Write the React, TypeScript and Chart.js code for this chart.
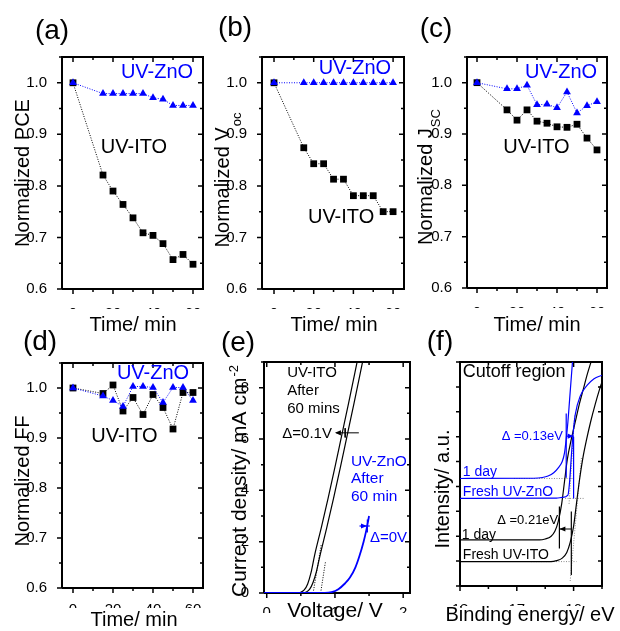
import React, { useEffect, useRef } from "react";
import { Chart, registerables } from "chart.js";
Chart.register(...registerables);

const FONT = "'Liberation Sans', Arial, Helvetica, sans-serif";
const BLUE = "#0000ff";
const GRAY = "#8a8a8a";
const PAGE_W = 620;
const PAGE_H = 631;
const YW = 40;
const XH = 20;

// ---------------- data: panels (a)-(d)
const timeMin = [0, 15, 20, 25, 30, 35, 40, 45, 50, 55, 60];
const pceITO = [1.0, 0.821, 0.79, 0.764, 0.738, 0.709, 0.704, 0.688, 0.657, 0.667, 0.648];
const pceZnO = [1.0, 0.979, 0.979, 0.979, 0.979, 0.979, 0.971, 0.968, 0.956, 0.956, 0.956];
const vocITO = [1.0, 0.874, 0.843, 0.843, 0.813, 0.813, 0.781, 0.781, 0.781, 0.75, 0.75];
const vocZnO = [1.0, 1.0, 1.0, 1.0, 1.0, 1.0, 1.0, 1.0, 1.0, 1.0, 1.0];
const jscITO = [1.0, 0.947, 0.927, 0.947, 0.925, 0.921, 0.914, 0.913, 0.919, 0.892, 0.869];
const jscZnO = [1.0, 0.988, 0.988, 0.995, 0.957, 0.958, 0.951, 0.982, 0.941, 0.955, 0.963];
const ffITO = [1.0, 0.989, 1.006, 0.954, 0.981, 0.947, 0.987, 0.961, 0.918, 0.991, 0.991];
const ffZnO = [1.0, 0.984, 0.975, 0.963, 1.003, 1.003, 1.001, 0.971, 1.001, 1.001, 0.975];

const timeTicks = [0, 10, 20, 30, 40, 50, 60];
const normTicks = [0.6, 0.65, 0.7, 0.75, 0.8, 0.85, 0.9, 0.95, 1.0, 1.05];

// ---------------- data: panel (e) J-V
const jvVoltItoAged = [-0.04, 0.45, 0.5, 0.55, 0.6, 0.65, 0.7, 0.8, 0.9, 1.0, 1.1, 1.2, 1.34];
const jvCurItoAged = [0, 0, 0.03, 0.12, 0.35, 0.8, 1.45, 2.55, 3.7, 4.9, 6.15, 7.4, 9.2];
const jvVoltItoFresh = [-0.04, 0.52, 0.58, 0.63, 0.68, 0.73, 0.78, 0.88, 0.98, 1.08, 1.18, 1.28, 1.42];
const jvCurItoFresh = [0, 0, 0.04, 0.15, 0.42, 0.85, 1.45, 2.55, 3.7, 4.9, 6.15, 7.4, 9.2];
const jvVoltZnO = [-0.04, 0.85, 0.95, 1.05, 1.15, 1.22, 1.3, 1.36, 1.42, 1.46, 1.5];
const jvCurZnO = [0, 0, 0.03, 0.15, 0.38, 0.6, 1.0, 1.45, 2.0, 2.45, 3.0];
const tangentAgedV = [0.68, 0.8];
const tangentAgedJ = [0, 1.9];
const tangentFreshV = [0.79, 0.86];
const tangentFreshJ = [0, 1.2];
const itoArrowV = [1.02, 1.35];
const itoArrowJ = [6.24, 6.24];
const itoArrowTickV = [1.15, 1.15];
const itoArrowTickJ = [6.42, 6.06];
const znoArrowV = [1.36, 1.51];
const znoArrowJ = [2.61, 2.61];
const znoArrowTickV = [1.475, 1.475];
const znoArrowTickJ = [2.86, 2.36];
const voltTicks = [0, 0.5, 1, 1.5, 2];
const curTicks = [0, 1, 2, 3, 4, 5, 6, 7, 8, 9];

// ---------------- data: panel (f) UPS cutoff
const beFreshITO = [18, 16.4, 16.3, 16.2, 16.12, 16.06, 16.0, 15.95, 15.9, 15.84, 15.77, 15.7, 15.62, 15.55, 15.5];
const intFreshITO = [0.98, 0.98, 1.02, 1.12, 1.35, 1.75, 2.4, 3.3, 4.2, 5.1, 5.9, 6.6, 7.3, 7.85, 8.2];
const beDayITO = [18, 16.6, 16.5, 16.4, 16.33, 16.27, 16.21, 16.16, 16.11, 16.04, 15.97, 15.9, 15.83, 15.76, 15.68];
const intDayITO = [1.85, 1.85, 1.89, 1.99, 2.2, 2.6, 3.3, 4.2, 5.1, 5.9, 6.6, 7.3, 7.9, 8.5, 9.1];
const beFreshZnO = [18, 16.3, 16.2, 16.1, 16.07, 16.04, 16.01, 15.97, 15.88, 15.76, 15.64, 15.5];
const intFreshZnO = [3.52, 3.53, 3.56, 3.65, 4.2, 5.2, 6.1, 6.9, 7.65, 8.07, 8.33, 8.47];
const beDayZnO = [18, 16.7, 16.55, 16.45, 16.35, 16.27, 16.2, 16.16, 16.13, 16.1, 16.07, 16.04, 16.01];
const intDayZnO = [4.32, 4.33, 4.36, 4.42, 4.55, 4.75, 5.0, 5.35, 5.9, 6.6, 7.5, 8.4, 9.3];
const markDayZnOBE = [16.13, 16.13];
const markDayZnOInt = [4.35, 6.93];
const markFreshZnOBE = [16.0, 16.0];
const markFreshZnOInt = [3.52, 6.0];
const markDayITOBE = [16.25, 16.25];
const markDayITOInt = [1.51, 3.19];
const markFreshITOBE = [16.04, 16.04];
const markFreshITOInt = [0.44, 2.99];
const arrowZnOBE = [16.13, 16.0];
const arrowZnOInt = [6.02, 6.02];
const arrowITOBE = [16.25, 16.04];
const arrowITOInt = [2.29, 2.29];
const baseDayZnOBE = [17.05, 16.0];
const baseDayZnOInt = [4.32, 4.32];
const baseFreshZnOBE = [16.15, 15.82];
const baseFreshZnOInt = [3.52, 3.52];
const baseFreshITOBE = [16.75, 15.95];
const baseFreshITOInt = [0.98, 0.98];
const tanFreshITOBE = [16.06, 15.86];
const tanFreshITOInt = [0.2, 5.2];
const tanFreshZnOBE = [16.08, 15.98];
const tanFreshZnOInt = [3.3, 6.9];
const beTicks = [18, 17.5, 17, 16.5, 16, 15.5];
const intTicks = [0, 1, 2, 3, 4, 5, 6, 7, 8, 9];

// ---------------- helpers
const pts = (xs: number[], ys: number[]) => xs.map((x, i) => ({ x, y: ys[i] }));

const line = (xs: number[], ys: number[], color: string, width = 1, dash: number[] = [], smooth = false) => ({
  data: pts(xs, ys),
  showLine: true,
  borderColor: color,
  backgroundColor: color,
  borderWidth: width,
  borderDash: dash,
  pointRadius: 0,
  pointHoverRadius: 0,
  fill: false,
  cubicInterpolationMode: smooth ? "monotone" : "default",
});

const series = (ys: number[], color: string, style: string) => ({
  data: pts(timeMin, ys),
  showLine: true,
  borderColor: color,
  backgroundColor: color,
  borderWidth: 1,
  borderDash: [1, 1.5],
  pointStyle: style,
  pointRadius: style === "rect" ? 4.8 : 4.5,
  pointBackgroundColor: color,
  pointBorderColor: color,
  pointBorderWidth: 0,
  pointHoverRadius: 0,
  fill: false,
});

const timeLabel = (v: number) => (Math.abs(v % 20) < 1e-9 ? String(v) : "");
const normLabel = (v: number) =>
  Math.abs(v * 10 - Math.round(v * 10)) < 1e-6 && v < 1.04 ? v.toFixed(1) : "";
const intLabel = (v: number) => (Math.abs(v - Math.round(v)) < 1e-9 ? String(Math.round(v)) : "");
const evenLabel = (v: number) => (v % 2 === 0 && v <= 8 ? String(v) : "");
const noLabel = () => "";

// ---------------- annotation plugin (arrow heads, texts, titles)
const decorPlugin = {
  id: "decor",
  afterDraw(chart: any, _args: any, o: any) {
    const ctx: CanvasRenderingContext2D = chart.ctx;
    const xs = chart.scales.x;
    const ys = chart.scales.y;
    const ox = o.ox || 0;
    const oy = o.oy || 0;
    ctx.save();

    for (const ah of o.arrowHeads || []) {
      const tx = xs.getPixelForValue(ah.tip[0]);
      const ty = ys.getPixelForValue(ah.tip[1]);
      const fx = xs.getPixelForValue(ah.from[0]);
      const fy = ys.getPixelForValue(ah.from[1]);
      const ang = Math.atan2(ty - fy, tx - fx);
      const len = 6;
      const hw = 2.6;
      ctx.fillStyle = ah.color;
      ctx.beginPath();
      ctx.moveTo(tx, ty);
      ctx.lineTo(tx - len * Math.cos(ang) + hw * Math.sin(ang), ty - len * Math.sin(ang) - hw * Math.cos(ang));
      ctx.lineTo(tx - len * Math.cos(ang) - hw * Math.sin(ang), ty - len * Math.sin(ang) + hw * Math.cos(ang));
      ctx.closePath();
      ctx.fill();
    }

    ctx.textBaseline = "middle";
    for (const t of o.texts || []) {
      ctx.font = `${t.size || 20}px ${FONT}`;
      ctx.fillStyle = t.color || "#000";
      ctx.textAlign = t.align || "center";
      ctx.fillText(t.text, xs.getPixelForValue(t.x), ys.getPixelForValue(t.y));
    }

    ctx.translate(-ox, -oy);
    ctx.fillStyle = "#000";
    if (o.panelLabel) {
      ctx.font = `28px ${FONT}`;
      ctx.textAlign = "center";
      ctx.textBaseline = "middle";
      ctx.fillText(o.panelLabel.text, o.panelLabel.x, o.panelLabel.y - 2);
    }
    if (o.xTitle) {
      ctx.font = `${o.xTitle.size || 20}px ${FONT}`;
      ctx.textAlign = "center";
      ctx.textBaseline = "alphabetic";
      ctx.fillText(o.xTitle.text, o.xTitle.x, o.xTitle.y);
    }
    if (o.yTitle) {
      const yt = o.yTitle;
      ctx.save();
      ctx.translate(yt.x, yt.y);
      ctx.rotate(-Math.PI / 2);
      ctx.textBaseline = "alphabetic";
      ctx.textAlign = "left";
      ctx.font = `${yt.size || 20}px ${FONT}`;
      const wm = ctx.measureText(yt.main).width;
      let ws = 0;
      if (yt.small) {
        ctx.font = `${yt.smallSize || 13}px ${FONT}`;
        ws = ctx.measureText(yt.small).width + 1;
      }
      const start = -(wm + ws) / 2;
      ctx.font = `${yt.size || 20}px ${FONT}`;
      ctx.fillText(yt.main, start, 0);
      if (yt.small) {
        ctx.font = `${yt.smallSize || 13}px ${FONT}`;
        ctx.fillText(yt.small, start + wm + 1, yt.smallDy || 0);
      }
      ctx.restore();
    }
    ctx.restore();
  },
};

type Box = { x: number; y: number; w: number; h: number };
type Area = { l: number; t: number; r: number; b: number };
type AxisCfg = {
  min: number;
  max: number;
  ticks: number[];
  label: (v: number) => string;
  padding: number;
  reverse?: boolean;
};
type PanelCfg = {
  box: Box;
  area: Area;
  x: AxisCfg;
  y: AxisCfg;
  datasets: any[];
  decor: any;
  yFlat?: boolean;
};

// frame and tick marks, drawn through the chart's own scales as line datasets
function axesDatasets(p: PanelCfg): any[] {
  const { x, y, area } = p;
  const kx = (x.max - x.min) / (area.r - area.l);
  const ky = (y.max - y.min) / (area.b - area.t);
  const xLeft = x.reverse ? x.max : x.min;
  const xRight = x.reverse ? x.min : x.max;
  const sx = x.reverse ? -1 : 1;
  const frame = [
    { x: xLeft, y: y.min },
    { x: xRight, y: y.min },
    { x: xRight, y: y.max },
    { x: xLeft, y: y.max },
    { x: xLeft, y: y.min },
  ];
  const tickPts: any[] = [];
  for (const v of x.ticks) {
    const len = x.label(v) !== "" ? 5 : 3;
    tickPts.push({ x: v, y: y.min }, { x: v, y: y.min - len * ky }, { x: v, y: null });
    tickPts.push({ x: v, y: y.max }, { x: v, y: y.max - len * ky }, { x: v, y: null });
  }
  for (const v of y.ticks) {
    const len = p.yFlat ? 4 : y.label(v) !== "" ? 5 : 3;
    tickPts.push({ x: xLeft, y: v }, { x: xLeft - sx * len * kx, y: v }, { x: xLeft, y: null });
    tickPts.push({ x: xRight, y: v }, { x: xRight - sx * len * kx, y: v }, { x: xRight, y: null });
  }
  const base = {
    showLine: true,
    borderColor: "#000",
    backgroundColor: "#000",
    pointRadius: 0,
    pointHoverRadius: 0,
    fill: false,
    spanGaps: false,
    clip: false,
  };
  return [
    { ...base, borderWidth: 2, data: frame },
    { ...base, borderWidth: 1.5, data: tickPts },
  ];
}

function axis(c: AxisCfg, isX: boolean) {
  return {
    type: "linear",
    position: isX ? "bottom" : "left",
    min: c.min,
    max: c.max,
    reverse: !!c.reverse,
    grid: { display: false },
    border: { display: false },
    afterBuildTicks: (s: any) => {
      s.ticks = c.ticks.map((v) => ({ value: v }));
    },
    afterFit: (s: any) => {
      if (isX) s.height = XH;
      else s.width = YW;
    },
    ticks: {
      autoSkip: false,
      maxRotation: 0,
      minRotation: 0,
      padding: c.padding,
      color: "#000",
      font: { family: FONT, size: 15 },
      callback: (v: any) => c.label(Number(v)),
    },
  };
}

function buildConfig(p: PanelCfg): any {
  const { box, area } = p;
  return {
    type: "scatter",
    data: { datasets: [...p.datasets, ...axesDatasets(p)] },
    plugins: [decorPlugin],
    options: {
      responsive: false,
      animation: false,
      events: [],
      layout: {
        padding: {
          left: area.l - box.x - YW,
          top: area.t - box.y,
          right: box.x + box.w - area.r,
          bottom: box.y + box.h - area.b - XH,
        },
      },
      plugins: {
        legend: { display: false },
        tooltip: { enabled: false },
        decor: { ...p.decor, ox: box.x, oy: box.y },
      },
      scales: { x: axis(p.x, true), y: axis(p.y, false) },
    },
  };
}

// ---------------- panels
const timeAxis = (min: number, max: number, padding: number): AxisCfg => ({
  min, max, ticks: timeTicks, label: timeLabel, padding,
});
const normAxis: AxisCfg = { min: 0.6, max: 1.05, ticks: normTicks, label: normLabel, padding: 7 };

const panels: PanelCfg[] = [
  {
    box: { x: 0, y: 0, w: 215, h: 336 },
    area: { l: 62, t: 57, r: 203, b: 289 },
    x: timeAxis(-5.5, 65, 8),
    y: normAxis,
    datasets: [series(pceZnO, BLUE, "triangle"), series(pceITO, "#000", "rect")],
    decor: {
      panelLabel: { text: "(a)", x: 52, y: 33 },
      xTitle: { text: "Time/ min", x: 133, y: 331 },
      yTitle: { main: "Normalized PCE", x: 29, y: 173 },
      texts: [
        { text: "UV-ZnO", x: 42, y: 1.019, color: BLUE },
        { text: "UV-ITO", x: 30.5, y: 0.874 },
      ],
    },
  },
  {
    box: { x: 205, y: 0, w: 215, h: 336 },
    area: { l: 262, t: 57, r: 404, b: 289 },
    x: timeAxis(-6.05, 65.5, 8),
    y: normAxis,
    datasets: [series(vocZnO, BLUE, "triangle"), series(vocITO, "#000", "rect")],
    decor: {
      panelLabel: { text: "(b)", x: 235, y: 30 },
      xTitle: { text: "Time/ min", x: 334, y: 331 },
      yTitle: { main: "Normalized V", small: "oc", smallDy: 12, x: 229, y: 180 },
      texts: [
        { text: "UV-ZnO", x: 40.8, y: 1.027, color: BLUE },
        { text: "UV-ITO", x: 33.8, y: 0.738 },
      ],
    },
  },
  {
    box: { x: 410, y: 0, w: 210, h: 336 },
    area: { l: 467, t: 57, r: 607, b: 288 },
    x: timeAxis(-5, 65, 8),
    y: normAxis,
    datasets: [series(jscZnO, BLUE, "triangle"), series(jscITO, "#000", "rect")],
    decor: {
      panelLabel: { text: "(c)", x: 436, y: 31 },
      xTitle: { text: "Time/ min", x: 537, y: 331 },
      yTitle: { main: "Normalized J", small: "SC", smallDy: 8, x: 432, y: 177 },
      texts: [
        { text: "UV-ZnO", x: 42, y: 1.019, color: BLUE },
        { text: "UV-ITO", x: 29.75, y: 0.874 },
      ],
    },
  },
  {
    box: { x: 0, y: 328, w: 215, h: 303 },
    area: { l: 62, t: 363, r: 203, b: 588 },
    x: timeAxis(-5.5, 65, 5),
    y: normAxis,
    datasets: [series(ffZnO, BLUE, "triangle"), series(ffITO, "#000", "rect")],
    decor: {
      panelLabel: { text: "(d)", x: 40, y: 344 },
      xTitle: { text: "Time/ min", x: 134, y: 626 },
      yTitle: { main: "Normalized FF", x: 29, y: 481 },
      texts: [
        { text: "UV-ZnO", x: 40, y: 1.03, color: BLUE },
        { text: "UV-ITO", x: 25.75, y: 0.904 },
      ],
    },
  },
  {
    box: { x: 205, y: 328, w: 215, h: 303 },
    area: { l: 264, t: 362, r: 410, b: 593 },
    x: { min: -0.04, max: 2.1, ticks: voltTicks, label: intLabel, padding: 3 },
    y: { min: 0, max: 9, ticks: curTicks, label: evenLabel, padding: 7 },
    datasets: [
      line(jvVoltZnO, jvCurZnO, BLUE, 1.8, [], true),
      line(znoArrowV, znoArrowJ, BLUE, 1.2),
      line(znoArrowTickV, znoArrowTickJ, BLUE, 1.2),
      line(jvVoltItoAged, jvCurItoAged, "#000", 1.2, [], true),
      line(jvVoltItoFresh, jvCurItoFresh, "#000", 1.2, [], true),
      line(tangentAgedV, tangentAgedJ, "#000", 1, [1, 1.5]),
      line(tangentFreshV, tangentFreshJ, "#000", 1, [1, 1.5]),
      line(itoArrowV, itoArrowJ, "#000", 1),
      line(itoArrowTickV, itoArrowTickJ, "#000", 1),
    ],
    decor: {
      panelLabel: { text: "(e)", x: 238, y: 345 },
      xTitle: { text: "Voltage/ V", x: 335, y: 617, size: 21 },
      yTitle: { main: "Current density/ mA cm", small: "-2", smallDy: -8, size: 21, x: 246, y: 481 },
      arrowHeads: [
        { tip: [1.0, 6.24], from: [1.1, 6.24], color: "#000" },
        { tip: [1.47, 2.61], from: [1.38, 2.61], color: BLUE },
      ],
      texts: [
        { text: "UV-ITO", x: 0.3, y: 8.58, align: "left", size: 15 },
        { text: "After", x: 0.3, y: 7.88, align: "left", size: 15 },
        { text: "60 mins", x: 0.3, y: 7.18, align: "left", size: 15 },
        { text: "\u0394=0.1V", x: 0.956, y: 6.21, align: "right", size: 15 },
        { text: "UV-ZnO", x: 1.234, y: 5.13, align: "left", size: 15.5, color: BLUE },
        { text: "After", x: 1.234, y: 4.47, align: "left", size: 15.5, color: BLUE },
        { text: "60 min", x: 1.234, y: 3.77, align: "left", size: 15.5, color: BLUE },
        { text: "\u0394=0V", x: 1.512, y: 2.14, align: "left", size: 15, color: BLUE },
      ],
    },
  },
  {
    box: { x: 410, y: 328, w: 210, h: 303 },
    area: { l: 460, t: 362, r: 602, b: 586 },
    x: { min: 15.5, max: 18, reverse: true, ticks: beTicks, label: intLabel, padding: 7 },
    y: { min: 0, max: 9, ticks: intTicks, label: noLabel, padding: 7 },
    yFlat: true,
    datasets: [
      line(beDayZnO, intDayZnO, BLUE, 1.2, [], true),
      line(beFreshZnO, intFreshZnO, BLUE, 1.2, [], true),
      line(markDayZnOBE, markDayZnOInt, BLUE, 1.2),
      line(markFreshZnOBE, markFreshZnOInt, BLUE, 1.2),
      line(arrowZnOBE, arrowZnOInt, BLUE, 1.2),
      line(beDayITO, intDayITO, "#000", 1.2, [], true),
      line(beFreshITO, intFreshITO, "#000", 1.2, [], true),
      line(markDayITOBE, markDayITOInt, "#000", 1.2),
      line(markFreshITOBE, markFreshITOInt, "#000", 1.2),
      line(arrowITOBE, arrowITOInt, "#000", 1),
      line(baseDayZnOBE, baseDayZnOInt, GRAY, 1, [1, 1.5]),
      line(baseFreshZnOBE, baseFreshZnOInt, GRAY, 1, [1, 1.5]),
      line(baseFreshITOBE, baseFreshITOInt, GRAY, 1, [1, 1.5]),
      line(tanFreshITOBE, tanFreshITOInt, GRAY, 1, [1, 1.5]),
      line(tanFreshZnOBE, tanFreshZnOInt, GRAY, 1, [1, 1.5]),
    ],
    decor: {
      panelLabel: { text: "(f)", x: 440, y: 344 },
      xTitle: { text: "Binding energy/ eV", x: 530, y: 621 },
      yTitle: { main: "Intensity/ a.u.", x: 449, y: 489 },
      arrowHeads: [
        { tip: [16.0, 6.02], from: [16.13, 6.02], color: BLUE },
        { tip: [16.25, 2.29], from: [16.1, 2.29], color: "#000" },
      ],
      texts: [
        { text: "Cutoff region", x: 17.95, y: 8.6, align: "left", size: 18 },
        { text: "\u0394 =0.13eV", x: 16.19, y: 5.99, align: "right", size: 13, color: BLUE },
        { text: "1 day", x: 17.95, y: 4.58, align: "left", size: 14, color: BLUE },
        { text: "Fresh UV-ZnO", x: 17.95, y: 3.78, align: "left", size: 14, color: BLUE },
        { text: "\u0394 =0.21eV", x: 16.27, y: 2.65, align: "right", size: 13 },
        { text: "1 day", x: 17.97, y: 2.05, align: "left", size: 14 },
        { text: "Fresh UV-ITO", x: 17.95, y: 1.25, align: "left", size: 14 },
      ],
    },
  },
];

function Panel({ cfg }: { cfg: PanelCfg }) {
  const ref = useRef<HTMLCanvasElement>(null);
  useEffect(() => {
    const chart = new Chart(ref.current as HTMLCanvasElement, buildConfig(cfg));
    return () => chart.destroy();
  }, [cfg]);
  const { box } = cfg;
  return (
    <canvas
      ref={ref}
      width={box.w}
      height={box.h}
      style={{ position: "absolute", left: box.x, top: box.y, width: box.w, height: box.h }}
    />
  );
}

export default function App() {
  return (
    <div
      style={{
        position: "fixed",
        left: 0,
        top: 0,
        width: PAGE_W,
        height: PAGE_H,
        background: "#fff",
        overflow: "hidden",
      }}
    >
      {panels.map((p, i) => (
        <Panel key={i} cfg={p} />
      ))}
    </div>
  );
}
